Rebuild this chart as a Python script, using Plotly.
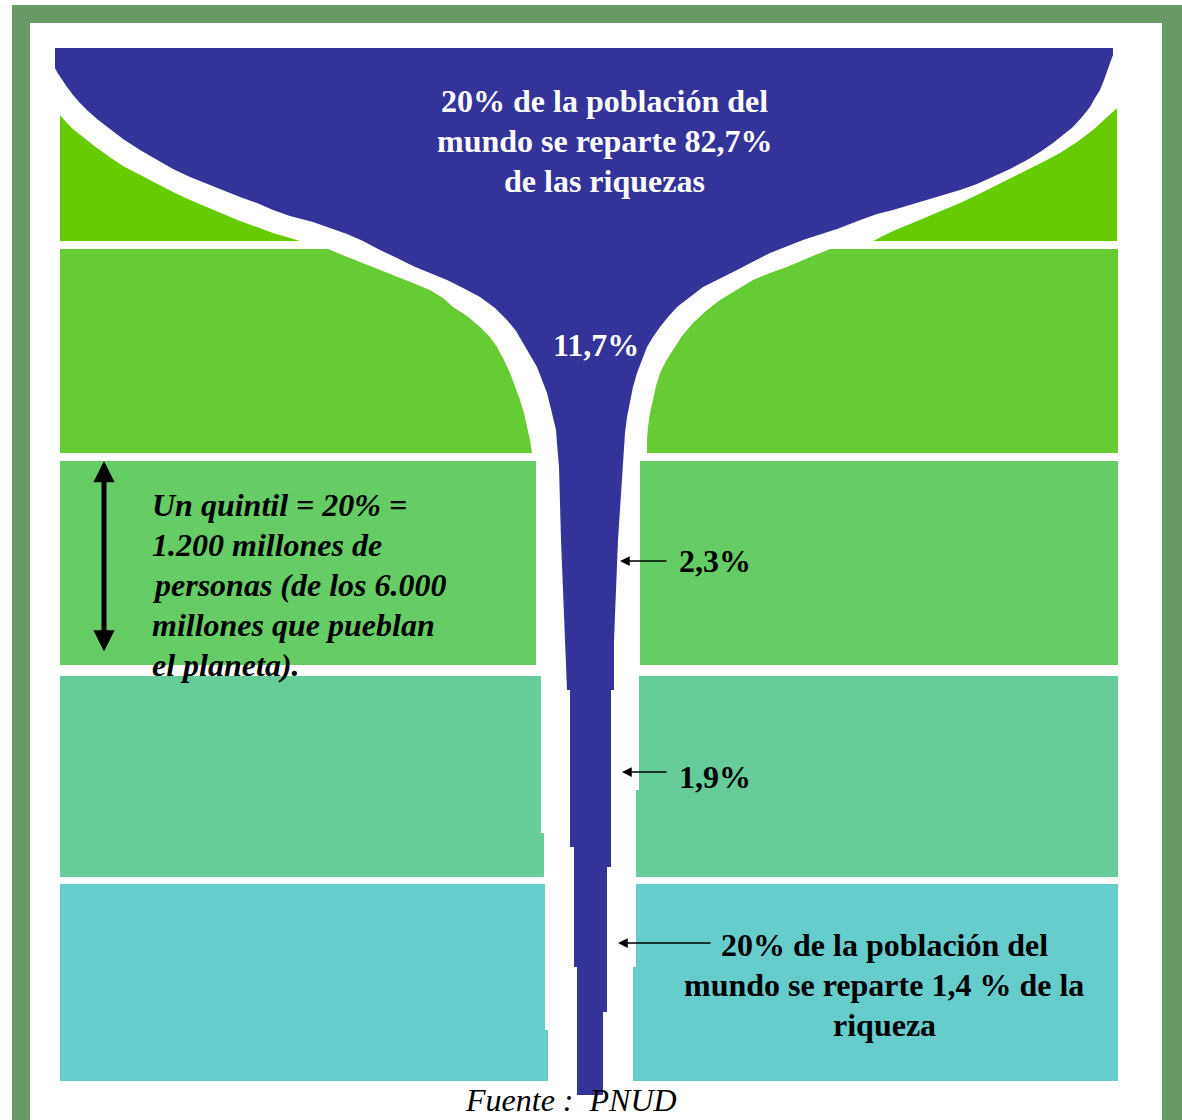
import plotly.graph_objects as go

# ---------------- data ----------------
quintiles = ["20% más rico", "Segundo 20%", "Tercer 20%", "Cuarto 20%", "20% más pobre"]
wealth_share = [82.7, 11.7, 2.3, 1.9, 1.4]
band_colors = ["#66CC00", "#66CC33", "#66CC66", "#66CC99", "#66CCCC"]
glass_color = "#333399"
frame_color = "#669966"
source_text = "Fuente :\u00a0\u00a0PNUD"
note_lines = ["Un quintil = 20% =", "1.200 millones de", "personas (de los 6.000",
              "millones que pueblan", "el planeta)."]


def pct(v):
    return f"{v:.1f}%".replace(".", ",")


top_lines = ["20% de la población del", f"mundo se reparte {pct(wealth_share[0])}", "de las riquezas"]
bottom_lines = ["20% de la población del",
                f"mundo se reparte {pct(wealth_share[4]).replace('%', ' %')} de la", "riqueza"]

# ---------------- geometry of the "champagne glass" (drawing coordinates) ----------------
glass_left = [(55, 48), (55, 68), (57, 72), (62, 80), (67, 87), (73, 95), (80, 103), (88, 111),
              (97, 119), (110, 129), (123, 139), (140, 150), (157, 160), (173, 169), (190, 177),
              (207, 184), (223, 190), (240, 197), (257, 203), (273, 210), (290, 216), (313, 222),
              (330, 228), (347, 234), (363, 241), (380, 250), (397, 258), (413, 266), (430, 273),
              (447, 280), (463, 288), (480, 297), (495, 308), (507, 320), (516, 331), (523, 343),
              (530, 355), (537, 367), (542, 380), (547, 393), (550, 405), (553, 417), (556, 430),
              (557, 443), (558, 455), (559, 467), (561, 540), (565, 640), (567, 690), (570, 690),
              (570, 847), (574, 847), (574, 967), (577, 967), (577, 1095)]
glass_right = [(1113, 48), (1113, 55), (1110, 63), (1108, 70), (1104, 80), (1100, 90), (1095, 98),
               (1090, 107), (1082, 117), (1073, 127), (1063, 135), (1053, 143), (1040, 152),
               (1027, 160), (1010, 169), (993, 177), (977, 184), (960, 190), (943, 195),
               (927, 200), (910, 205), (893, 210), (877, 214), (863, 219), (837, 229), (803, 240),
               (770, 253), (737, 270), (703, 287), (690, 297), (677, 307), (668, 317), (660, 327),
               (653, 337), (647, 347), (642, 360), (637, 373), (633, 387), (630, 400), (627, 417),
               (625, 433), (624, 450), (623, 467), (618, 540), (614, 640), (614, 690), (611, 690),
               (611, 867), (607, 867), (607, 1012), (603, 1012), (603, 1095)]

band_left = [
    [(60, 115), (66, 122), (73, 129), (80, 135), (88, 141), (97, 148), (105, 154), (114, 160),
     (123, 166), (140, 175), (157, 184), (173, 192), (190, 200), (207, 207), (223, 214),
     (240, 221), (257, 227), (273, 233), (290, 238), (300, 241), (60, 241)],
    [(60, 249), (328, 249), (345, 256), (363, 263), (380, 270), (397, 277), (413, 283), (430, 290),
     (443, 298), (453, 307), (467, 316), (480, 327), (490, 337), (497, 347), (504, 360),
     (510, 373), (515, 386), (520, 400), (524, 413), (527, 427), (530, 440), (532, 453), (60, 453)],
    [(60, 461), (536, 461), (536, 665), (60, 665)],
    [(60, 676), (541, 676), (541, 833), (544, 833), (544, 877), (60, 877)],
    [(60, 884), (545, 884), (545, 1030), (548, 1030), (548, 1081), (60, 1081)],
]
band_right = [
    [(1117, 108), (1117, 241), (873, 241), (893, 231), (910, 224), (927, 217), (943, 210),
     (960, 203), (977, 195), (993, 187), (1010, 179), (1027, 170), (1043, 162), (1060, 153),
     (1077, 142), (1093, 130), (1105, 119)],
    [(1118, 249), (1118, 453), (647, 453), (647, 440), (648, 427), (650, 413), (653, 400),
     (656, 386), (660, 373), (666, 361), (673, 350), (682, 336), (693, 323), (706, 311),
     (720, 300), (736, 290), (753, 280), (770, 273), (787, 267), (808, 258), (830, 249)],
    [(640, 461), (1118, 461), (1118, 665), (640, 665)],
    [(639, 676), (1118, 676), (1118, 877), (636, 877), (636, 790), (639, 790)],
    [(636, 884), (1118, 884), (1118, 1081), (633, 1081), (633, 967), (636, 967)],
]

W, H = 1182, 1120
FONT = "Liberation Serif, Times New Roman, serif"
FS = 32
LINE = 40

fig = go.Figure()


def poly(points, color, name):
    xs = [p[0] for p in points] + [points[0][0]]
    ys = [p[1] for p in points] + [points[0][1]]
    fig.add_trace(go.Scatter(x=xs, y=ys, fill="toself", fillcolor=color, mode="lines",
                             line=dict(width=0, color=color), hoverinfo="skip",
                             name=name, showlegend=False))


for i, q in enumerate(quintiles):
    poly(band_left[i], band_colors[i], q)
    poly(band_right[i], band_colors[i], q)

glass = glass_left + list(reversed(glass_right))
poly(glass, glass_color, "Riqueza")

# frame
shapes = [
    dict(type="rect", xref="x", yref="y", x0=12, x1=1200, y0=5, y1=1200,
         fillcolor=frame_color, line=dict(width=0), layer="below"),
    dict(type="rect", xref="x", yref="y", x0=30, x1=1162, y0=23, y1=1200,
         fillcolor="white", line=dict(width=0), layer="below"),
]

ann = []


def text_block(lines, x, y0, color, xanchor="center", fmt="<b>{}</b>"):
    for k, line in enumerate(lines):
        ann.append(dict(x=x, y=y0 + k * LINE, xref="x", yref="y", showarrow=False,
                        xanchor=xanchor, yanchor="middle", text=fmt.format(line),
                        font=dict(family=FONT, size=FS, color=color)))


# top label (white)
text_block(top_lines, 604, 101, "white")
text_block([pct(wealth_share[1])], 596, 345, "white")
# side labels
text_block([pct(wealth_share[2])], 677, 561, "black", xanchor="left")
text_block([pct(wealth_share[3])], 677, 777, "black", xanchor="left")
text_block(bottom_lines, 884, 945, "black")
# note
text_block(note_lines, 150, 505, "black", xanchor="left", fmt="<b><i>{}</i></b>")
# source
ann.append(dict(x=571, y=1100, xref="x", yref="y", showarrow=False,
                text=f"<i>{source_text}</i>",
                font=dict(family=FONT, size=FS, color="black")))

# arrows
for (hx, hy, tx) in [(620, 561, 668), (622, 772, 668), (618, 943, 712)]:
    ann.append(dict(x=hx, y=hy, ax=tx, ay=hy, xref="x", yref="y", axref="x", ayref="y",
                    text="", showarrow=True, arrowhead=2, arrowsize=1.3, arrowwidth=1.5,
                    arrowcolor="black"))
# quintile double arrow
ann.append(dict(x=104, y=461, ax=104, ay=653, xref="x", yref="y", axref="x", ayref="y",
                text="", showarrow=True, arrowhead=2, startarrowhead=2, arrowside="end+start",
                arrowsize=0.85, startarrowsize=0.85, arrowwidth=5, arrowcolor="black"))

fig.update_layout(
    width=W, height=H, margin=dict(l=0, r=0, t=0, b=0),
    paper_bgcolor="white", plot_bgcolor="white",
    xaxis=dict(range=[0, W], visible=False, fixedrange=True),
    yaxis=dict(range=[H, 0], visible=False, fixedrange=True),
    shapes=shapes, annotations=ann, showlegend=False,
)

fig.write_html("out.html", config={"displayModeBar": False},
               post_script="document.body.style.margin='0';")
